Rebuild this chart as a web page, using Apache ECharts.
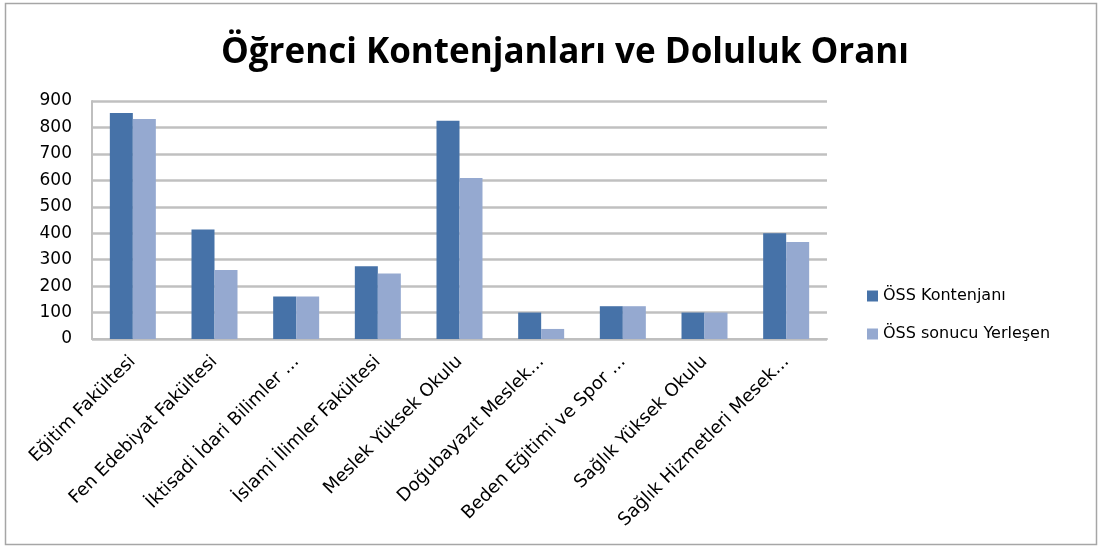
<!DOCTYPE html>
<html>
<head>
<meta charset="utf-8">
<script src="https://cdn.jsdelivr.net/npm/echarts@6/dist/echarts.min.js"></script>
<style>
  html, body { margin: 0; padding: 0; background: #fff; }
  #main { width: 1103px; height: 550px; }
</style>
</head>
<body>
<div id="main"></div>
<script>
// kategoriler (Excel'deki kısaltılmış etiketlerle)
const categories = [
  'Eğitim Fakültesi',
  'Fen Edebiyat Fakültesi',
  'İktisadi İdari Bilimler ...',
  'İslami İlimler Fakültesi',
  'Meslek Yüksek Okulu',
  'Doğubayazıt Meslek...',
  'Beden Eğitimi ve Spor ...',
  'Sağlık Yüksek Okulu',
  'Sağlık Hizmetleri Mesek...'
]
const seriesNames = ['ÖSS Kontenjanı', 'ÖSS sonucu Yerleşen']
const kontenjan = [855, 414, 161, 275, 825, 100, 124, 100, 400]
const yerlesen = [832, 261, 161, 248, 609, 38, 124, 100, 367]

const labelFont = 'DejaVu Sans'

const myChart = echarts.init(document.getElementById('main'))
myChart.setOption({
  animation: false,
  textStyle: { fontFamily: labelFont },
  title: {
    text: 'Öğrenci Kontenjanları ve Doluluk Oranı',
    left: 560,
    textAlign: 'center',
    top: 31,
    textStyle: { fontSize: 35, fontWeight: 'bold', color: '#000', fontFamily: 'Open Sans' }
  },
  // dış çerçeve
  graphic: [{
    type: 'rect',
    shape: { x: 5.5, y: 3.5, width: 1091, height: 541 },
    style: { fill: 'none', stroke: '#a6a6a6', lineWidth: 1.5 },
    silent: true
  }],
  legend: {
    orient: 'vertical',
    left: 862,
    top: 283,
    itemGap: 22,
    itemWidth: 11,
    itemHeight: 11,
    icon: 'rect',
    data: seriesNames,
    textStyle: { fontSize: 16, color: '#000', fontFamily: labelFont }
  },
  grid: {
    left: 92,
    right: 1103 - 827,
    top: 101,
    bottom: 550 - 339,
    containLabel: false
  },
  xAxis: {
    type: 'category',
    data: categories,
    axisLine: { show: true, lineStyle: { color: '#bfbfbf', width: 2 } },
    axisTick: { show: false },
    axisLabel: {
      interval: 0,
      rotate: 45,
      margin: 20,
      fontSize: 18,
      color: '#000'
    }
  },
  yAxis: {
    type: 'value',
    min: 0,
    max: 900,
    interval: 100,
    axisLine: { show: true, lineStyle: { color: '#bfbfbf', width: 2 } },
    axisTick: { show: false },
    axisLabel: { fontSize: 17, color: '#000', margin: 20 },
    splitLine: { lineStyle: { color: '#c0c0c0', width: 2.5 } }
  },
  series: [
    {
      name: seriesNames[0],
      type: 'bar',
      data: kontenjan,
      barWidth: 23,
      barGap: '0%',
      itemStyle: { color: '#4672a8' }
    },
    {
      name: seriesNames[1],
      type: 'bar',
      data: yerlesen,
      barWidth: 23,
      itemStyle: { color: '#95a9d0' }
    }
  ]
})
</script>
</body>
</html>
